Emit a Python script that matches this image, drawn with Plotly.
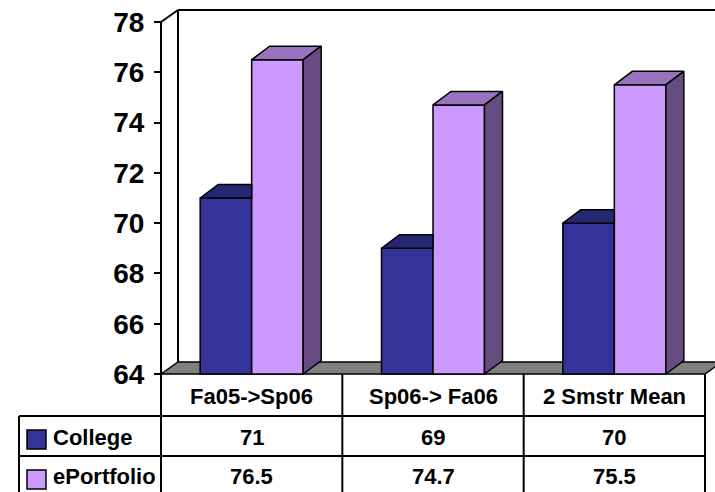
import plotly.graph_objects as go

# ---- data ----
categories = ["Fa05->Sp06", "Sp06-> Fa06", "2 Smstr Mean"]
college = [71, 69, 70]
eportfolio = [76.5, 74.7, 75.5]
value_labels_college = ["71", "69", "70"]
value_labels_eportfolio = ["76.5", "74.7", "75.5"]
series_names = ["College", "ePortfolio"]
y_ticks = [64, 66, 68, 70, 72, 74, 76, 78]

# ---- geometry / style ----
W_PX, H_PX = 715, 492
AX_LEFT_PX = 161          # front value axis
FLOOR_PX = 374            # pixel row of value 64
CAT_PX = 544 / 3          # width of one category slot
UNIT_PX = 352 / 14        # pixels per value unit
Y_MIN = 64

x_lo = -0.5 - AX_LEFT_PX / CAT_PX
x_hi = -0.5 + (W_PX - AX_LEFT_PX) / CAT_PX
y_lo = Y_MIN - (H_PX - FLOOR_PX) / UNIT_PX
y_hi = Y_MIN + FLOOR_PX / UNIT_PX

BAR_W = 51.5 / CAT_PX
BAR_DX, BAR_DY = 18 / CAT_PX, 13.5 / UNIT_PX     # bar depth
WALL_DX, WALL_DY = 17 / CAT_PX, 12 / UNIT_PX     # wall / floor depth

C_FRONT = ["#333399", "#CC99FF"]
C_TOP = ["#262673", "#9973BF"]
C_SIDE = ["#1A1A4D", "#664C80"]
FONT = "Arial, Liberation Sans, sans-serif"
EDGE = dict(color="black", width=1.5)


def fx(px):
    return px / W_PX


def fy(py):
    return 1 - py / H_PX


fig = go.Figure()

# front faces of the bars
for k, (name, vals) in enumerate(zip(series_names, [college, eportfolio])):
    fig.add_trace(go.Bar(
        x=list(range(len(categories))),
        y=[v - Y_MIN for v in vals],
        base=Y_MIN,
        width=BAR_W,
        offset=-BAR_W if k == 0 else 0,
        marker=dict(color=C_FRONT[k], line=EDGE),
        name=name,
        hoverinfo="skip",
        showlegend=False,
    ))


def poly(xs, ys, color):
    fig.add_trace(go.Scatter(
        x=xs + [xs[0]], y=ys + [ys[0]], mode="lines", fill="toself",
        fillcolor=color, line=EDGE, hoverinfo="skip", showlegend=False))


for i in range(len(categories)):
    # College top, partly hidden behind the ePortfolio bar
    v = college[i]
    x0, x1 = i - BAR_W, i
    poly([x0, x0 + BAR_DX, x1, x1], [v, v + BAR_DY, v + BAR_DY, v], C_TOP[0])
    # ePortfolio top and side
    v = eportfolio[i]
    x0, x1 = i, i + BAR_W
    poly([x0, x0 + BAR_DX, x1 + BAR_DX, x1], [v, v + BAR_DY, v + BAR_DY, v], C_TOP[1])
    poly([x1, x1 + BAR_DX, x1 + BAR_DX, x1],
         [v, v + BAR_DY, Y_MIN + BAR_DY, Y_MIN], C_SIDE[1])

shapes = []
# floor
x_front_r = len(categories) - 0.5
shapes.append(dict(
    type="path", xref="x", yref="y", layer="below",
    path=(f"M {-0.5},{Y_MIN} L {-0.5 + WALL_DX},{Y_MIN + WALL_DY} "
          f"L {x_front_r + WALL_DX},{Y_MIN + WALL_DY} L {x_front_r},{Y_MIN} Z"),
    fillcolor="#808080", line=dict(color="black", width=1.5)))
# back wall outline and front value axis
y_top = y_ticks[-1]
wall_lines = [
    (-0.5 + WALL_DX, Y_MIN + WALL_DY, -0.5 + WALL_DX, y_top + WALL_DY),
    (-0.5 + WALL_DX, y_top + WALL_DY, x_hi + 0.1, y_top + WALL_DY),
    (-0.5, y_top, -0.5 + WALL_DX, y_top + WALL_DY),
    (-0.5, Y_MIN, -0.5, y_top),
]
for xa, ya, xb, yb in wall_lines:
    shapes.append(dict(type="line", xref="x", yref="y", layer="below",
                       x0=xa, y0=ya, x1=xb, y1=yb,
                       line=dict(color="black", width=2)))

# data table grid
col_px = [AX_LEFT_PX + j * CAT_PX for j in range(len(categories) + 1)]
row_px = [FLOOR_PX, 416, 456, 496]
TABLE_LEFT = 19
grid = dict(color="black", width=2)
for py in row_px[1:]:
    shapes.append(dict(type="line", xref="paper", yref="paper",
                       x0=fx(TABLE_LEFT), x1=fx(col_px[-1]), y0=fy(py), y1=fy(py), line=grid))
for px in col_px:
    shapes.append(dict(type="line", xref="paper", yref="paper",
                       x0=fx(px), x1=fx(px), y0=fy(row_px[0]), y1=fy(row_px[-1]), line=grid))
shapes.append(dict(type="line", xref="paper", yref="paper",
                   x0=fx(TABLE_LEFT), x1=fx(TABLE_LEFT), y0=fy(row_px[1]), y1=fy(row_px[-1]), line=grid))

# legend swatches in the table
for k in range(2):
    top = row_px[k + 1] + 14
    shapes.append(dict(type="rect", xref="paper", yref="paper",
                       x0=fx(27), x1=fx(46), y0=fy(top), y1=fy(top + 19),
                       fillcolor=C_FRONT[k], line=dict(color="black", width=1.5)))

annotations = []
txt_font = dict(family=FONT, size=22, color="black", weight="bold")
row_mid = [(row_px[r] + row_px[r + 1]) / 2 for r in range(3)]
for i, cat in enumerate(categories):
    annotations.append(dict(x=i, y=fy(row_mid[0] + 1), xref="x", yref="paper",
                            text=cat, showarrow=False, font=txt_font,
                            xanchor="center", yanchor="middle"))
    annotations.append(dict(x=i, y=fy(row_mid[1] + 1), xref="x", yref="paper",
                            text=value_labels_college[i], showarrow=False, font=txt_font,
                            xanchor="center", yanchor="middle"))
    annotations.append(dict(x=i, y=fy(row_mid[2]), xref="x", yref="paper",
                            text=value_labels_eportfolio[i], showarrow=False, font=txt_font,
                            xanchor="center", yanchor="middle"))
for k, name in enumerate(series_names):
    annotations.append(dict(x=fx(51), y=fy(row_mid[k + 1] + (0 if k else 1)),
                            xref="paper", yref="paper",
                            text=name, showarrow=False, font=txt_font,
                            xanchor="left", yanchor="middle"))

fig.update_layout(
    width=W_PX, height=H_PX,
    margin=dict(l=0, r=0, t=0, b=0),
    paper_bgcolor="white", plot_bgcolor="white",
    barmode="overlay",
    showlegend=False,
    shapes=shapes,
    annotations=annotations,
    xaxis=dict(range=[x_lo, x_hi], visible=False, fixedrange=True),
    yaxis=dict(range=[y_lo, y_hi], anchor="free", position=fx(AX_LEFT_PX),
               tickvals=y_ticks, ticks="outside", ticklen=7, tickwidth=2,
               tickcolor="black", showgrid=False, zeroline=False, showline=False,
               ticklabelstandoff=4,
               tickfont=dict(family=FONT, size=28, color="black", weight="bold"),
               fixedrange=True),
)

fig.write_html("out.html")
